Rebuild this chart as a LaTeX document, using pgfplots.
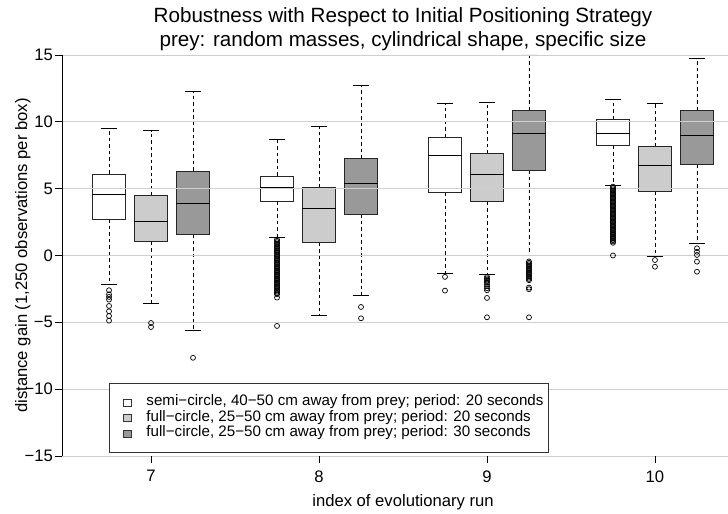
\documentclass[border=0pt]{standalone}
\usepackage{pgfplots}
\pgfplotsset{compat=1.18}
\usepgfplotslibrary{statistics}
\usepackage{fontspec}
\setmainfont{Liberation Sans}
\definecolor{lgray}{HTML}{CCCCCC}
\definecolor{dgray}{HTML}{999999}
\definecolor{gridc}{HTML}{CFCFCF}
\pgfplotsset{
 rbp/.style={
   boxplot/draw direction=y,
   boxplot/box extend=0.2,
   boxplot/whisker extend=0.1,
   boxplot/every box/.style={draw=black!85, line width=0.8bp},
   boxplot/every median/.style={draw=black, line width=1bp},
   boxplot/draw/lower whisker/.code={
     \draw[dash pattern=on 3.5bp off 3bp, line width=0.7bp] (boxplot box cs:\pgfplotsboxplotvalue{lower quartile},0.5) -- (boxplot box cs:\pgfplotsboxplotvalue{lower whisker},0.5);
     \draw[solid, line width=0.8bp] (boxplot whisker cs:\pgfplotsboxplotvalue{lower whisker},0) -- (boxplot whisker cs:\pgfplotsboxplotvalue{lower whisker},1);
   },
   boxplot/draw/upper whisker/.code={
     \draw[dash pattern=on 3.5bp off 3bp, line width=0.7bp] (boxplot box cs:\pgfplotsboxplotvalue{upper quartile},0.5) -- (boxplot box cs:\pgfplotsboxplotvalue{upper whisker},0.5);
     \draw[solid, line width=0.8bp] (boxplot whisker cs:\pgfplotsboxplotvalue{upper whisker},0) -- (boxplot whisker cs:\pgfplotsboxplotvalue{upper whisker},1);
   },
   draw=black, mark=o, mark size=2.5bp, mark options={solid, draw=black, line width=0.7bp},
   forget plot,
 },
 legsq/.style={legend image code/.code={\path (0bp,0bp); \draw[##1, draw=black!80, line width=0.6bp] (9bp,-3.7bp) rectangle (16.4bp,3.7bp);}},
}
\begin{document}
\begin{tikzpicture}
\path[use as bounding box] (0,0) rectangle (728bp,514bp);
\begin{axis}[name=ax, at={(62bp,58bp)}, anchor=south west, scale only axis,
  width=682bp, height=401bp,
  xmin=6.47, xmax=10.53, ymin=-15, ymax=15,
  axis x line*=bottom, axis y line*=left,
  x axis line style={draw=none}, y axis line style={line width=0.8bp, black, -},
  xtick={7,8,9,10}, xticklabels={7,8,9,10},
  ytick={-15,-10,-5,0,5,10,15},
  yticklabels={−15,−10,−5,0,5,10,15},
  tick align=outside, major tick length=7bp,
  tick style={black, line width=0.8bp},
  ymajorgrids, major grid style={gridc, line width=0.8bp},
  axis on top,
  /pgf/number format/assume math mode=true,
  tick label style={font=\fontsize{16.7}{20}\selectfont},
  yticklabel style={inner xsep=2bp},
  xticklabel style={yshift=-4bp},
  xlabel={index of evolutionary run},
  xlabel style={at={(axis description cs:0.5,-0.1247)}, anchor=base, font=\fontsize{16.7}{20}\selectfont},
  ylabel={distance gain (1,250 observations per box)},
  ylabel style={at={(axis description cs:-0.0575,0.5)}, anchor=center, font=\fontsize{16.7}{20}\selectfont},
  legend style={at={(axis description cs:0.0689,0.0075)}, anchor=south west, draw=black!80, line width=0.8bp, fill=white,
    inner xsep=5bp, inner ysep=11.25bp, column sep=15bp, row sep=0pt,
    font=\fontsize{15.2}{15.5}\selectfont,
    nodes={inner sep=0pt, text height=11bp, text depth=4.5bp}},
  legend cell align=left,
]
\addlegendimage{legsq, fill=white}
\addlegendentry{semi−circle, 40−50 cm away from prey; period: 20 seconds}
\addlegendimage{legsq, fill=lgray}
\addlegendentry{full−circle, 25−50 cm away from prey; period: 20 seconds}
\addlegendimage{legsq, fill=dgray}
\addlegendentry{full−circle, 25−50 cm away from prey; period: 30 seconds}

% ---- run 7
\addplot[rbp, fill=white, boxplot prepared={draw position=6.75, lower whisker=-2.15, lower quartile=2.725, median=4.6, upper quartile=6.1, upper whisker=9.475}]
  table[row sep=\\, y index=0] {v\\ -2.6\\ -2.9\\ -3.1\\ -3.3\\ -3.775\\ -4.175\\ -4.525\\ -4.875\\};
\addplot[rbp, fill=lgray, boxplot prepared={draw position=7, lower whisker=-3.575, lower quartile=1.025, median=2.575, upper quartile=4.475, upper whisker=9.35}]
  table[row sep=\\, y index=0] {v\\ -5.05\\ -5.35\\};
\addplot[rbp, fill=dgray, boxplot prepared={draw position=7.25, lower whisker=-5.6, lower quartile=1.575, median=3.875, upper quartile=6.325, upper whisker=12.25}]
  table[row sep=\\, y index=0] {v\\ -7.65\\};

% ---- run 8
\addplot[rbp, fill=white, boxplot prepared={draw position=7.75, lower whisker=1.325, lower quartile=4.075, median=5.1, upper quartile=5.95, upper whisker=8.7}]
  table[row sep=\\, y index=0] {v\\ 1.2\\ 1.1\\ 1.0\\ 0.9\\ 0.8\\ 0.7\\ 0.6\\ 0.5\\ 0.4\\ 0.3\\ 0.2\\ 0.1\\ 0.0\\ -0.1\\ -0.2\\ -0.3\\ -0.4\\ -0.5\\ -0.6\\ -0.7\\ -0.8\\ -0.9\\ -1.0\\ -1.1\\ -1.2\\ -1.3\\ -1.4\\ -1.5\\ -1.6\\ -1.7\\ -1.8\\ -1.9\\ -2.0\\ -2.1\\ -2.2\\ -2.3\\ -2.4\\ -2.5\\ -2.6\\ -2.7\\ -2.8\\ -2.9\\ -3.15\\ -5.27\\};
\addplot[rbp, fill=lgray, boxplot prepared={draw position=8, lower whisker=-4.475, lower quartile=0.95, median=3.55, upper quartile=5.1, upper whisker=9.65}]
  coordinates {};
\addplot[rbp, fill=dgray, boxplot prepared={draw position=8.25, lower whisker=-2.975, lower quartile=3.1, median=5.4, upper quartile=7.25, upper whisker=12.725}]
  table[row sep=\\, y index=0] {v\\ -3.85\\ -4.7\\};

% ---- run 9
\addplot[rbp, fill=white, boxplot prepared={draw position=8.75, lower whisker=-1.375, lower quartile=4.7, median=7.45, upper quartile=8.85, upper whisker=11.35}]
  table[row sep=\\, y index=0] {v\\ -1.6\\ -2.625\\};
\addplot[rbp, fill=lgray, boxplot prepared={draw position=9, lower whisker=-1.425, lower quartile=4.025, median=6.075, upper quartile=7.625, upper whisker=11.45}]
  table[row sep=\\, y index=0] {v\\ -1.6\\ -1.7\\ -1.8\\ -1.9\\ -2.0\\ -2.15\\ -2.3\\ -2.45\\ -2.6\\ -3.175\\ -4.625\\};
\addplot[rbp, fill=dgray, boxplot prepared={draw position=9.25, lower whisker=0.0, lower quartile=6.375, median=9.15, upper quartile=10.875, upper whisker=15.0}]
  table[row sep=\\, y index=0] {v\\ -0.45\\ -0.55\\ -0.65\\ -0.75\\ -0.85\\ -0.95\\ -1.05\\ -1.15\\ -1.25\\ -1.35\\ -1.45\\ -1.55\\ -1.65\\ -1.75\\ -1.85\\ -2.4\\ -2.525\\ -4.625\\};

% ---- run 10
\addplot[rbp, fill=white, boxplot prepared={draw position=9.75, lower whisker=5.275, lower quartile=8.2, median=9.125, upper quartile=10.175, upper whisker=11.675}]
  table[row sep=\\, y index=0] {v\\ 5.15\\ 5.05\\ 4.95\\ 4.85\\ 4.75\\ 4.65\\ 4.55\\ 4.45\\ 4.35\\ 4.25\\ 4.15\\ 4.05\\ 3.95\\ 3.85\\ 3.75\\ 3.65\\ 3.55\\ 3.45\\ 3.35\\ 3.25\\ 3.15\\ 3.05\\ 2.95\\ 2.85\\ 2.75\\ 2.65\\ 2.55\\ 2.45\\ 2.35\\ 2.25\\ 2.15\\ 2.05\\ 1.95\\ 1.85\\ 1.75\\ 1.65\\ 1.55\\ 1.45\\ 1.35\\ 1.25\\ 1.15\\ 1.05\\ 0.95\\ 0.0\\};
\addplot[rbp, fill=lgray, boxplot prepared={draw position=10, lower whisker=-0.05, lower quartile=4.8, median=6.7, upper quartile=8.125, upper whisker=11.35}]
  table[row sep=\\, y index=0] {v\\ -0.34\\ -0.84\\};
\addplot[rbp, fill=dgray, boxplot prepared={draw position=10.25, lower whisker=0.9, lower quartile=6.8, median=9.0, upper quartile=10.875, upper whisker=14.75}]
  table[row sep=\\, y index=0] {v\\ 0.54\\ 0.28\\ 0.04\\ -0.46\\ -1.21\\};
\end{axis}
\node[anchor=base, font=\fontsize{20.7}{24}\selectfont] at ([yshift=32bp]ax.north) {Robustness with Respect to Initial Positioning Strategy};
\node[anchor=base, font=\fontsize{20.7}{24}\selectfont] at ([yshift=8.5bp]ax.north) {prey: random masses, cylindrical shape, specific size};
\end{tikzpicture}
\end{document}
